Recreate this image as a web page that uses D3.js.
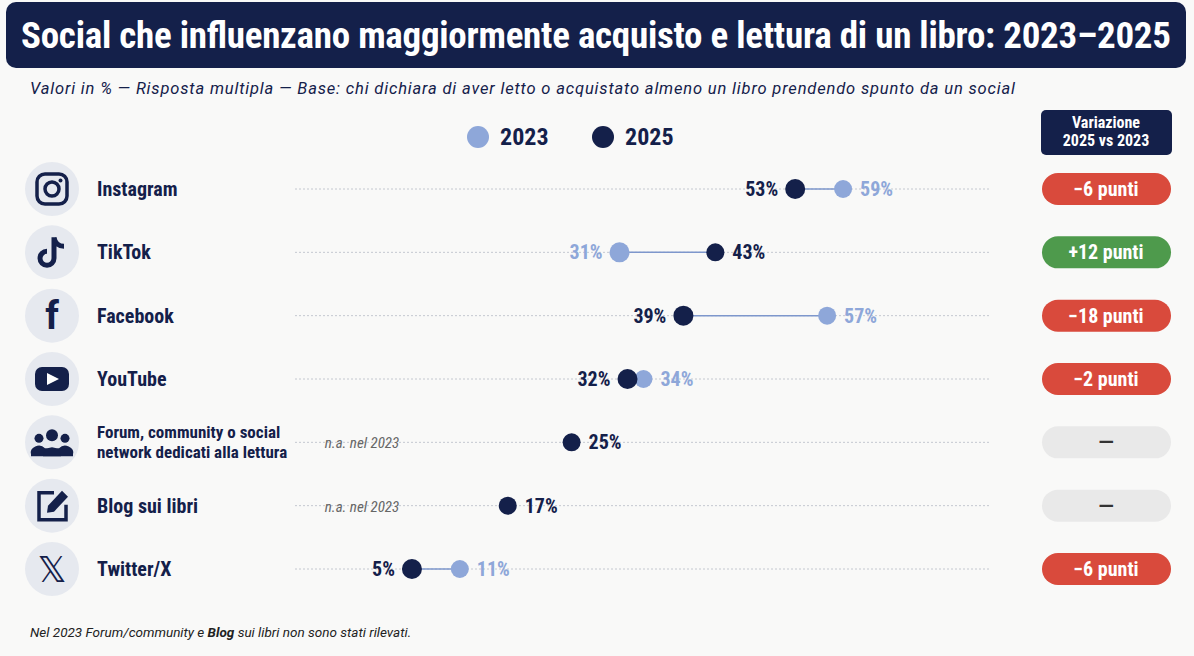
<!DOCTYPE html>
<html><head><meta charset="utf-8">
<script src="https://cdn.jsdelivr.net/npm/d3@7"></script>
<style>body{margin:0;background:#f9f9f8}svg{display:block}</style>
</head><body><svg id="c" width="1194" height="656"></svg>
<script>
var socials = ["Instagram","TikTok","Facebook","YouTube","Forum, community o social|network dedicati alla lettura","Blog sui libri","Twitter/X"];
var v2023 = [59, 31, 57, 34, null, null, 11];
var v2025 = [53, 43, 39, 32, 25, 17, 5];
var changes = ["\u22126 punti","+12 punti","\u221218 punti","\u22122 punti","\u2014","\u2014","\u22126 punti"];

var NAVY = "#14204a", LIGHT = "#8ea7d9", COND = "'Liberation Sans Narrow','Roboto Condensed',Roboto,sans-serif";
var svg = d3.select("#c");
var x = d3.scaleLinear().domain([0, 65]).range([372, 891]);
var y = d3.scalePoint().domain(d3.range(socials.length)).range([189, 569]);

svg.append("rect").attr("x",6).attr("y",2).attr("width",1180).attr("height",66).attr("rx",10).attr("fill",NAVY);
svg.append("text").attr("x",596).attr("y",48).attr("text-anchor","middle").attr("fill","#fff")
  .attr("font-family",COND).attr("font-weight","bold").attr("font-size",37).attr("textLength",1150)
  .text("Social che influenzano maggiormente acquisto e lettura di un libro: 2023\u20132025");
svg.append("text").attr("x",30).attr("y",94).attr("fill",NAVY).attr("font-family","Roboto,sans-serif")
  .attr("font-style","italic").attr("font-size",16.5).attr("textLength",985)
  .text("Valori in % \u2014 Risposta multipla \u2014 Base: chi dichiara di aver letto o acquistato almeno un libro prendendo spunto da un social");

// legend
[["2023",LIGHT,478],["2025",NAVY,603]].forEach(function(l){
  svg.append("circle").attr("cx",l[2]).attr("cy",137).attr("r",11).attr("fill",l[1]);
  svg.append("text").attr("x",l[2]+22).attr("y",145).attr("fill",NAVY).attr("font-family",COND)
    .attr("font-weight","bold").attr("font-size",24).text(l[0]);
});
svg.append("rect").attr("x",1041).attr("y",110).attr("width",131).attr("height",45).attr("rx",5).attr("fill",NAVY);
["Variazione","2025 vs 2023"].forEach(function(t,i){
  svg.append("text").attr("x",1106).attr("y",128+i*18).attr("text-anchor","middle").attr("fill","#fff")
    .attr("font-family",COND).attr("font-weight","bold").attr("font-size",16).text(t);
});

function icon(g, i){
  var s = NAVY;
  if(i==0){ g.append("rect").attr("x",-15).attr("y",-15).attr("width",30).attr("height",30).attr("rx",8).attr("fill","none").attr("stroke",s).attr("stroke-width",3.5);
    g.append("circle").attr("r",7).attr("fill","none").attr("stroke",s).attr("stroke-width",3.5);
    g.append("circle").attr("cx",8.5).attr("cy",-8.5).attr("r",2).attr("fill",s);}
  if(i==1){ g.append("path").attr("d","M2,-15 L2,6 A7,7 0 1 1 -5,-1 M2,-15 C3,-9 7,-6 12,-6").attr("fill","none").attr("stroke",s).attr("stroke-width",5);}
  if(i==2){ g.append("text").attr("y",13).attr("text-anchor","middle").attr("font-family","Roboto,sans-serif").attr("font-weight","bold").attr("font-size",38).attr("fill",s).text("f");}
  if(i==3){ g.append("rect").attr("x",-17).attr("y",-12).attr("width",34).attr("height",24).attr("rx",7).attr("fill",s);
    g.append("path").attr("d","M-5,-6 L7,0 L-5,6Z").attr("fill","#fff");}
  if(i==4){ [[-13,-4,4.5],[13,-4,4.5],[0,-7,6]].forEach(function(c){g.append("circle").attr("cx",c[0]).attr("cy",c[1]).attr("r",c[2]).attr("fill",s);});
    g.append("path").attr("d","M-21,12 A8,7 0 0 1 -7,6 L7,6 A8,7 0 0 1 21,12 L21,14 L-21,14Z").attr("fill",s);
    g.append("path").attr("d","M-9,14 A9,9 0 0 1 9,14Z").attr("fill",s);}
  if(i==5){ g.append("path").attr("d","M2,-13 L-13,-13 L-13,14 L14,14 L14,-1").attr("fill","none").attr("stroke",s).attr("stroke-width",3.5);
    g.append("path").attr("d","M-5,7 L-4,0 L10,-15 L16,-9 L2,6Z").attr("fill",s);}
  if(i==6){ g.append("text").attr("y",13).attr("text-anchor","middle").attr("font-family","DejaVu Sans,sans-serif").attr("font-size",36).attr("fill",s).text("\ud835\udd4f");}
}

socials.forEach(function(name, i){
  var cy = y(i);
  var ic = svg.append("g").attr("transform","translate(52,"+cy+")");
  ic.append("circle").attr("r",27).attr("fill","#e6e9ef");
  icon(ic, i);
  var parts = name.split("|");
  parts.forEach(function(p,k){
    svg.append("text").attr("x",97).attr("y",cy+7+(parts.length>1?(k*20-11):0)).attr("fill",NAVY)
      .attr("font-family",COND).attr("font-weight","bold").attr("font-size",parts.length>1?17:20).text(p);
  });
  svg.append("line").attr("x1",295).attr("x2",990).attr("y1",cy).attr("y2",cy)
    .attr("stroke","#c4c8d0").attr("stroke-dasharray","2,2");
  var a = v2023[i], b = v2025[i];
  if(a==null){
    svg.append("text").attr("x",362).attr("y",cy+6).attr("text-anchor","middle").attr("fill","#666")
      .attr("font-family",COND).attr("font-style","italic").attr("font-size",15).text("n.a. nel 2023");
  } else {
    svg.append("line").attr("x1",x(a)).attr("x2",x(b)).attr("y1",cy).attr("y2",cy).attr("stroke","#7e97cc").attr("stroke-width",1.5);
  }
  function dot(v,col,right){
    svg.append("circle").attr("cx",x(v)).attr("cy",cy).attr("r",right?9:10).attr("fill",col);
    svg.append("text").attr("x",x(v)+(right?17:-17)).attr("y",cy+7).attr("text-anchor",right?"start":"end")
      .attr("fill",col).attr("font-family",COND).attr("font-weight","bold").attr("font-size",20).text(v+"%");
  }
  if(a!=null) dot(a,LIGHT,a>b);
  dot(b,NAVY,a==null||b>a);
  var ch = changes[i];
  var col = ch[0]=="+"?"#4e9a4c":(ch=="\u2014"?"#e9e9e9":"#d94a3c");
  svg.append("rect").attr("x",1042).attr("y",cy-16).attr("width",129).attr("height",32).attr("rx",16).attr("fill",col);
  svg.append("text").attr("x",1106).attr("y",cy+7).attr("text-anchor","middle").attr("fill",ch=="\u2014"?"#333":"#fff")
    .attr("font-family",ch=="\u2014"?"Roboto,sans-serif":COND).attr("font-weight","bold").attr("font-size",20).text(ch);
});

var fn = svg.append("text").attr("x",30).attr("y",637).attr("fill","#222").attr("font-family","Roboto,sans-serif")
  .attr("font-style","italic").attr("font-size",13.5);
fn.append("tspan").text("Nel 2023 Forum/community e ");
fn.append("tspan").attr("font-weight","bold").text("Blog");
fn.append("tspan").text(" sui libri non sono stati rilevati.");
</script></body></html>
